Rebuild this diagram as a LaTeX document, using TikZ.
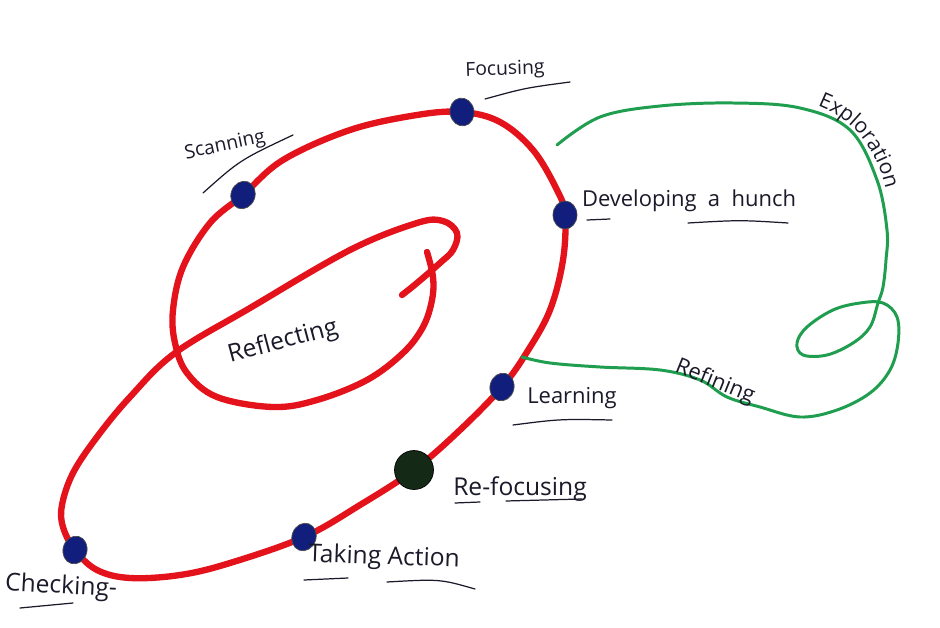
\documentclass[tikz,border=0pt]{standalone}
\usepackage{fontspec}
\setmainfont{Open Sans}
\usetikzlibrary{shapes.geometric,decorations.text}
\definecolor{pen}{HTML}{E3121B}
\definecolor{grn}{HTML}{1E9E4E}
\definecolor{navy}{HTML}{121E7C}
\definecolor{dkgrn}{HTML}{142A16}
\definecolor{ink}{HTML}{1A1A2A}
\tikzset{
  redline/.style={draw=pen, line width=3.6pt, line cap=round, line join=round},
  greenline/.style={draw=grn, line width=1.7pt, line cap=round, line join=round},
  dotmark/.style={ellipse, fill=navy, draw=black!70, line width=0.4pt, minimum width=0.48cm, minimum height=0.56cm, inner sep=0pt},
  bigdot/.style={circle, fill=dkgrn, draw=black, line width=0.4pt, minimum size=0.78cm, inner sep=0pt},
  lbl/.style={text=ink, font=\fontsize{12.5}{14}\selectfont, inner sep=1pt},
  small/.style={font=\fontsize{11}{13}\selectfont},
  large/.style={font=\fontsize{14}{16}\selectfont},
  uline/.style={draw=ink, line width=0.7pt, line cap=round}
}
\begin{document}
\begin{tikzpicture}[x=0.02cm,y=-0.02cm]
\useasboundingbox (0,0) rectangle (940,628);
\fill[white] (0,0) rectangle (940,628);

% red spiral
\draw[redline] plot[smooth, tension=0.6] coordinates {
 (427,252) (433,277) (432,300) (423,327) (403,353) (367,380) (317,400)
 (273,407) (217,397) (187,373) (175,343) (173,310) (183,267) (210,223)
 (243,195) (283,160) (350,130) (417,115) (462,112) (500,122) (533,150)
 (557,190) (565,215) (563,260) (550,310) (527,352) (502,387) (460,430)
 (414,470) (360,505) (304,537) (230,563) (180,575) (130,578) (97,570)
 (75,550) (63,527) (62,505) (73,473) (97,437) (130,397) (175,353)
 (250,308) (350,250) (417,223) (443,221) (457,233) (453,250) (440,263)
 (417,283) (402,295)};

% green curve
\draw[greenline] plot[smooth, tension=0.6] coordinates {
 (557,145) (600,117) (660,106) (733,103) (800,108) (850,130) (877,180)
 (887,230) (886,260) (883,287) (878,303) (870,327) (853,343) (827,355)
 (803,355) (797,343) (807,327) (833,310) (860,303) (883,303) (897,317)
 (898,343) (890,370) (870,393) (837,410) (800,417) (760,407) (727,397)
 (700,380) (660,370) (600,367) (550,363) (522,357)};

% dots
\node[dotmark, rotate=-20] (scan) at (243,195) {};
\node[dotmark, rotate=10] (focus) at (462,112) {};
\node[dotmark, rotate=0] (hunch) at (565,215) {};
\node[dotmark, rotate=-15] (learn) at (502,387) {};
\node[bigdot] (refocus) at (414,470) {};
\node[dotmark, rotate=-20] (action) at (304,537) {};
\node[dotmark, rotate=-15] (check) at (75,550) {};

% labels
\node[lbl, small, rotate=2] (lfocus) at (505,70) {Focusing};
\node[lbl, small, rotate=12] (lscan) at (225,146) {Scanning};
\node[lbl] (lhunch) at (689,201) {Developing~~a~~hunch};
\node[lbl] (llearn) at (572,398) {Learning};
\node[lbl, large] (lrefocus) at (520,489) {Re-focusing};
\node[lbl, large, rotate=-2] (laction) at (384,558) {Taking Action};
\node[lbl, large, rotate=-3] (lcheck) at (61,587) {Checking-};
\node[lbl, large, rotate=15] (lreflect) at (283,342) {Reflecting};
\node[lbl, rotate=-22] (lrefine) at (715,382) {Refining};

% Exploration along the curve
\coordinate (ex1) at (792,99);
\coordinate (ex2) at (890,215);
\path[decorate, decoration={text along path, text align=center,
  text={|\fontsize{12}{14}\selectfont\color{ink}|Exploration}}]
  (ex1) .. controls (850,108) and (884,150) .. (ex2);

% underlines
\draw[uline] (485,99) .. controls (525,88) .. (570,82);
\draw[uline] (203,193) .. controls (240,160) .. (293,135);
\draw[uline] (587,220) -- (610,219);
\draw[uline] (688,223) .. controls (740,220) .. (788,223);
\draw[uline] (513,425) .. controls (560,419) .. (612,420);
\draw[uline] (455,503) -- (480,502);
\draw[uline] (506,501) -- (582,499);
\draw[uline] (304,580) -- (348,578);
\draw[uline] (387,582) .. controls (440,579) .. (475,589);
\draw[uline] (20,608) -- (73,603);
\end{tikzpicture}
\end{document}
